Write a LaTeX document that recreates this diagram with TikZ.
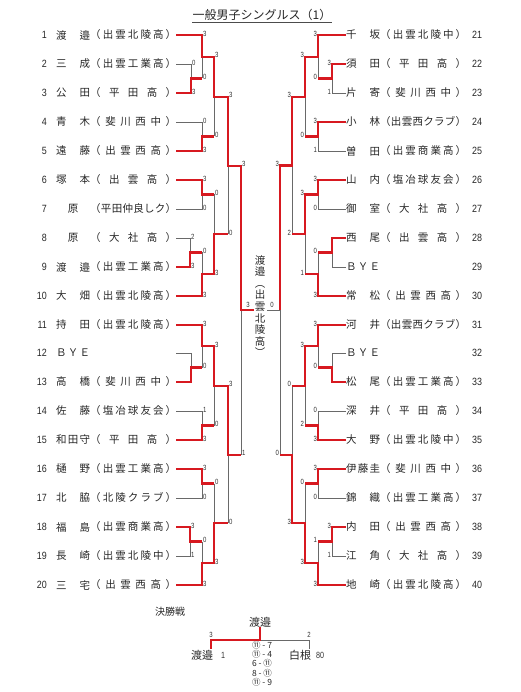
\documentclass[tikz,border=0pt]{standalone}
\usepackage{fontspec}
\setmainfont{Noto Sans CJK JP}
\newfontfamily\numfont[FakeStretch=0.85]{Liberation Sans}
\newfontfamily\scfont[FakeStretch=0.8]{Liberation Sans}
\definecolor{winred}{RGB}{215,25,32}
\definecolor{losegray}{RGB}{105,105,105}
\newcommand\dist[2]{\makebox[#1][s]{\distA#2\relax}}
\def\distA#1{#1\distB}
\def\distB#1{\ifx\relax#1\else\hfill#1\expandafter\distB\fi}
\newcommand\lpl[4]{%
\node[numl] (ln#1) at (47,#2) {#1};
\node[nm] (lm#1) at (56,#2) {\dist{34pt}{#3}};
\node[nm] (ls#1) at (90,#2) {\dist{86pt}{#4}};}
\newcommand\rpl[4]{%
\node[numr] (rn#1) at (472,#2) {#1};
\node[nm] (rm#1) at (346,#2) {\dist{34pt}{#3}};
\node[nm] (rs#1) at (380,#2) {\dist{86pt}{#4}};}
\begin{document}
\begin{tikzpicture}[x=1pt,y=-1pt,
  win/.style={winred,line width=2.1pt},
  lose/.style={losegray,line width=0.9pt},
  nm/.style={anchor=west,inner sep=0,text=black!85,font=\fontsize{10.5}{12}\selectfont},
  numl/.style={anchor=east,inner sep=0,text=black!85,font=\numfont\fontsize{10.5}{12}\selectfont},
  numr/.style={numl,anchor=west},
  scl/.style={anchor=west,inner sep=0,text=black!80,font=\scfont\fontsize{7.5}{9}\selectfont},
  scr/.style={scl,anchor=east},
  fnm/.style={inner sep=0,text=black!85,font=\fontsize{11}{13}\selectfont}]
\useasboundingbox (0,0) rectangle (520,692);

\node[inner sep=0,text=black!85,font=\fontsize{12}{14}\selectfont] (title) at (262,15) {一般男子シングルス（1）};
\draw[black!70,line width=0.6pt] ([yshift=-1pt]title.south west) -- ([yshift=-1pt]title.south east);

\lpl{1}{35}{渡邉}{（出雲北陵高）}
\lpl{2}{64}{三成}{（出雲工業高）}
\lpl{3}{93}{公田}{（平田高）}
\lpl{4}{122}{青木}{（斐川西中）}
\lpl{5}{151}{遠藤}{（出雲西高）}
\lpl{6}{180}{塚本}{（出雲高）}
\lpl{7}{209}{\hfil 原\hfil}{（平田仲良しク）}
\lpl{8}{238}{\hfil 原\hfil}{（大社高）}
\lpl{9}{267}{渡邉}{（出雲工業高）}
\lpl{10}{296}{大畑}{（出雲北陵高）}
\lpl{11}{325}{持田}{（出雲北陵高）}
\lpl{12}{353}{ＢＹＥ}{\hfil}
\lpl{13}{382}{高橋}{（斐川西中）}
\lpl{14}{411}{佐藤}{（塩冶球友会）}
\lpl{15}{440}{和田守}{（平田高）}
\lpl{16}{469}{樋野}{（出雲工業高）}
\lpl{17}{498}{北脇}{（北陵クラブ）}
\lpl{18}{527}{福島}{（出雲商業高）}
\lpl{19}{556}{長崎}{（出雲北陵中）}
\lpl{20}{585}{三宅}{（出雲西高）}

\rpl{21}{35}{千坂}{（出雲北陵中）}
\rpl{22}{64}{須田}{（平田高）}
\rpl{23}{93}{片寄}{（斐川西中）}
\rpl{24}{122}{小林}{（出雲西クラブ）}
\rpl{25}{151}{曽田}{（出雲商業高）}
\rpl{26}{180}{山内}{（塩冶球友会）}
\rpl{27}{209}{御室}{（大社高）}
\rpl{28}{238}{西尾}{（出雲高）}
\rpl{29}{267}{ＢＹＥ}{\hfil}
\rpl{30}{296}{常松}{（出雲西高）}
\rpl{31}{325}{河井}{（出雲西クラブ）}
\rpl{32}{353}{ＢＹＥ}{\hfil}
\rpl{33}{382}{松尾}{（出雲工業高）}
\rpl{34}{411}{深井}{（平田高）}
\rpl{35}{440}{大野}{（出雲北陵中）}
\rpl{36}{469}{伊藤圭}{（斐川西中）}
\rpl{37}{498}{錦織}{（出雲工業高）}
\rpl{38}{527}{内田}{（出雲西高）}
\rpl{39}{556}{江角}{（大社高）}
\rpl{40}{585}{地崎}{（出雲北陵高）}

\draw[lose] (ls2.east) -| (191,93);
\draw[lose] (ls4.east) -| (202,151);
\draw[lose] (ls7.east) -| (202,180);
\draw[lose] (ls8.east) -| (190,267);
\draw[lose] (ls12.east) -| (191,382);
\draw[lose] (ls14.east) -| (202,440);
\draw[lose] (ls17.east) -| (202,469);
\draw[lose] (ls19.east) -| (190,527);
\draw[lose] (202,35) -- (202,78.5);
\draw[lose] (214,56.75) -- (214,136.5);
\draw[lose] (202,252.5) -- (202,296);
\draw[lose] (214,194.5) -- (214,274.25);
\draw[lose] (228,96.75) -- (228,234.4);
\draw[lose] (241,165.6) -- (241,454.6);
\draw[lose] (202,325) -- (202,367.5);
\draw[lose] (214,346.25) -- (214,425.5);
\draw[lose] (202,541.5) -- (202,585);
\draw[lose] (214,483.5) -- (214,563.25);
\draw[lose] (228,385.9) -- (228,523.4);

\draw[lose] (rm23.west) -| (332,64);
\draw[lose] (rm25.west) -| (318,122);
\draw[lose] (rm27.west) -| (318,180);
\draw[lose] (rm29.west) -| (332,238);
\draw[lose] (rm32.west) -| (332,382);
\draw[lose] (rm34.west) -| (318,440);
\draw[lose] (rm37.west) -| (318,469);
\draw[lose] (rm39.west) -| (332,527);
\draw[lose] (318,35) -- (318,78.5);
\draw[lose] (305,56.75) -- (305,136.5);
\draw[lose] (318,252.5) -- (318,296);
\draw[lose] (305,194.5) -- (305,274.25);
\draw[lose] (292,96.6) -- (292,234.4);
\draw[lose] (280,165.5) -- (280,454.6);
\draw[lose] (318,325) -- (318,367.5);
\draw[lose] (305,346.25) -- (305,425.5);
\draw[lose] (318,541.5) -- (318,585);
\draw[lose] (305,483.5) -- (305,563.25);
\draw[lose] (292,385.9) -- (292,523.4);
\draw[lose] (280,310) -- (267,310);

\draw[win] (ls1.east) -| (202,56.75) -| (214,96.75) -| (228,165.6) -| (241,310) -- (254,310);
\draw[win] (ls3.east) -| (191,78.5) -- (202,78.5);
\draw[win] (ls5.east) -| (202,136.5) -- (214,136.5);
\draw[win] (ls6.east) -| (202,194.5) -- (214,194.5);
\draw[win] (ls9.east) -| (190,252.5) -- (202,252.5);
\draw[win] (ls10.east) -| (202,274.25) -| (214,234.4) -- (228,234.4);
\draw[win] (ls11.east) -| (202,346.25) -| (214,385.9) -| (228,454.6) -- (241,454.6);
\draw[win] (ls13.east) -| (191,367.5) -- (202,367.5);
\draw[win] (ls15.east) -| (202,425.5) -- (214,425.5);
\draw[win] (ls16.east) -| (202,483.5) -- (214,483.5);
\draw[win] (ls18.east) -| (190,541.5) -- (202,541.5);
\draw[win] (ls20.east) -| (202,563.25) -| (214,523.4) -- (228,523.4);

\draw[win] (rm21.west) -| (318,56.75) -| (305,96.6) -| (292,165.5) -| (280,310);
\draw[win] (rm22.west) -| (332,78.5) -- (318,78.5);
\draw[win] (rm24.west) -| (318,136.5) -- (305,136.5);
\draw[win] (rm26.west) -| (318,194.5) -| (305,234.4) -- (292,234.4);
\draw[win] (rm28.west) -| (332,252.5) -- (318,252.5);
\draw[win] (rm30.west) -| (318,274.25) -- (305,274.25);
\draw[win] (rm31.west) -| (318,346.25) -| (305,385.9) -- (292,385.9);
\draw[win] (rm33.west) -| (332,367.5) -- (318,367.5);
\draw[win] (rm35.west) -| (318,425.5) -- (305,425.5);
\draw[win] (rm36.west) -| (318,483.5) -- (305,483.5);
\draw[win] (rm38.west) -| (332,541.5) -- (318,541.5);
\draw[win] (rm40.west) -| (318,563.25) -| (305,523.4) -| (292,454.6) -- (280,454.6);

\foreach \x/\y/\t [count=\i] in {191/64/0,191/93/3,202/35/3,202/78.5/0,202/122/0,202/151/3,
  214/56.75/3,214/136.5/0,202/180/3,202/209/0,190/238/2,190/267/3,202/252.5/0,202/296/3,
  214/194.5/0,214/274.25/3,228/96.75/3,228/234.4/0,241/165.6/3,241/454.6/1,
  202/325/3,202/367.5/0,202/411/1,202/440/3,214/346.25/3,214/425.5/0,
  202/469/3,202/498/0,190/527/3,190/556/1,202/541.5/0,202/585/3,
  214/483.5/0,214/563.25/3,228/385.9/3,228/523.4/0}
  \node[scl] (la\i) at (\x+0.8,\y-1.5) {\t};
\foreach \x/\y/\t [count=\i] in {332/64/3,332/93/1,318/35/3,318/78.5/0,318/122/3,318/151/1,
  305/56.75/3,305/136.5/0,292/96.6/3,292/234.4/2,318/180/3,318/209/0,
  318/252.5/0,318/296/3,305/194.5/3,305/274.25/1,280/165.5/3,280/454.6/0,
  318/325/3,318/367.5/0,318/411/0,318/440/3,305/346.25/3,305/425.5/2,
  292/385.9/0,292/523.4/3,318/469/3,318/498/0,332/527/3,332/556/1,
  318/541.5/1,318/585/3,305/483.5/0,305/563.25/3}
  \node[scr] (ra\i) at (\x-0.8,\y-1.5) {\t};

\node[scl,anchor=south] (fa) at (248,308) {3};
\node[scl,anchor=south] (fb) at (272,308) {0};
\node[fnm,align=center,font=\fontsize{10.5}{11.6}\selectfont] (vname) at (260,306)
  {渡\\邉\\︵\\出\\雲\\北\\陵\\高\\︶};

\node[fnm,font=\fontsize{10}{12}\selectfont] (kessho) at (170,612) {決勝戦};
\node[fnm] (champ) at (260,622) {渡邉};
\node[fnm] (fl) at (202,655) {渡邉};
\node[scl,anchor=center,font=\scfont\fontsize{9}{10}\selectfont] (fln) at (223,655) {1};
\node[fnm] (fr) at (300,655) {白根};
\node[scl,anchor=center,font=\scfont\fontsize{9}{10}\selectfont] (frn) at (320,655) {80};
\draw[lose] (champ.south |- 0,640) -| (309,649);
\draw[win] (champ.south) |- (211,640) -- (211,649);
\node[scl,anchor=south] (fc) at (211,638) {3};
\node[scl,anchor=south] (fd) at (309,638) {2};
\node[fnm,align=center,font=\fontsize{8.5}{9.3}\selectfont] (fscore) at (262,663.5)
  {⑪ - 7\\⑪ - 4\\6 - ⑪\\8 - ⑪\\⑪ - 9};
\end{tikzpicture}
\end{document}
